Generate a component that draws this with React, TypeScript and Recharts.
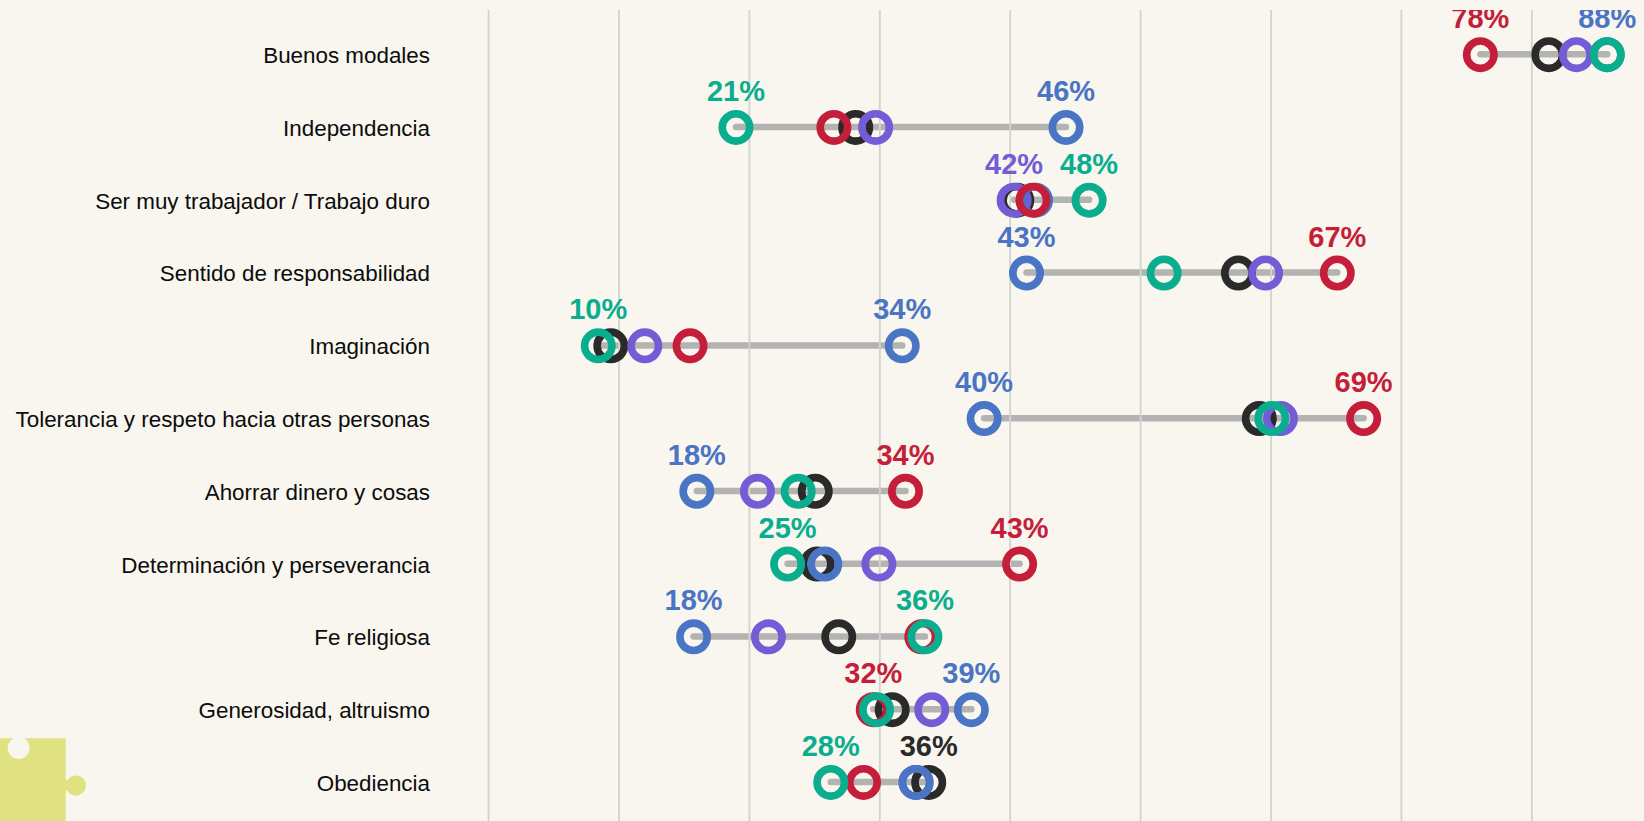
import React from "react";
import { Bar, ComposedChart, LabelList, Line, ReferenceLine, XAxis, YAxis } from "recharts";

const categories = [
  "Buenos modales",
  "Independencia",
  "Ser muy trabajador / Trabajo duro",
  "Sentido de responsabilidad",
  "Imaginación",
  "Tolerancia y respeto hacia otras personas",
  "Ahorrar dinero y cosas",
  "Determinación y perseverancia",
  "Fe religiosa",
  "Generosidad, altruismo",
  "Obediencia",
];

const blackValues = [83.3, 30.15, 42.5, 59.5, 11.37, 61.1, 27.05, 27.2, 28.85, 32.95, 35.75];
const blueValues = [87.78, 46.28, 43.94, 43.25, 33.72, 40.0, 17.97, 27.78, 17.72, 39.02, 34.78];
const purpleValues = [85.42, 31.68, 42.3, 61.58, 13.98, 62.72, 22.62, 31.93, 23.46, 35.98, 34.78];
const redValues = [78.05, 28.48, 43.74, 67.08, 17.45, 69.1, 33.97, 42.72, 35.22, 31.5, 30.75];
const greenValues = [87.78, 20.97, 48.05, 53.8, 10.41, 62.06, 25.74, 24.93, 35.46, 31.75, 28.24];

const blackLabels = [null, null, null, null, null, null, null, null, null, null, "36%"];
const blueLabels = ["88%", "46%", null, "43%", "34%", "40%", "18%", null, "18%", "39%", null];
const purpleLabels = [null, null, "42%", null, null, null, null, null, null, null, null];
const redLabels = ["78%", null, null, "67%", null, "69%", "34%", "43%", null, "32%", null];
const greenLabels = [null, "21%", "48%", null, "10%", null, null, "25%", "36%", null, "28%"];

const gridTicks = [2, 12, 22, 32, 42, 52, 62, 72, 82];

const BLACK = "#2a2a2a";
const BLUE = "#4a74c4";
const PURPLE = "#745cd6";
const RED = "#c41e3a";
const GREEN = "#0aae8e";
const BG = "#f8f6ee";
const FONT = '"Liberation Sans", Arial, sans-serif';

const rows = categories.map((name, i) => {
  const vals = [blackValues[i], blueValues[i], purpleValues[i], redValues[i], greenValues[i]];
  return {
    name,
    black: blackValues[i],
    blue: blueValues[i],
    purple: purpleValues[i],
    red: redValues[i],
    green: greenValues[i],
    blackLabel: blackLabels[i],
    blueLabel: blueLabels[i],
    purpleLabel: purpleLabels[i],
    redLabel: redLabels[i],
    greenLabel: greenLabels[i],
    range: [Math.min(...vals), Math.max(...vals)],
  };
});

const RangeShape = (props: any) => {
  const { x, y, width, height } = props;
  const cy = y + height / 2;
  return (
    <line x1={x} x2={x + width} y1={cy} y2={cy} stroke="#b3b3b1" strokeWidth={6.5} strokeLinecap="round" />
  );
};

const seriesDefs = [
  { key: "black", color: BLACK },
  { key: "purple", color: PURPLE },
  { key: "blue", color: BLUE },
  { key: "red", color: RED },
  { key: "green", color: GREEN },
];

export default function App() {
  return (
    <div style={{ position: "fixed", left: 0, top: 0, width: 1644, height: 821, background: BG, overflow: "hidden" }}>
      <svg width={100} height={821} style={{ position: "absolute", left: 0, top: 0 }}>
        <path
          d="M0 738.3 H13.5 A11 11 0 1 0 23.9 738.3 H65.7 V779 L67 781 A10 10 0 1 1 67 790 L65.7 792 V821 H0 Z"
          fill="#e0e282"
        />
      </svg>
      <div style={{ position: "absolute", left: 0, top: 10 }}>
        <ComposedChart
          width={1644}
          height={811}
          data={rows}
          layout="vertical"
          margin={{ top: 0, right: 0, bottom: 0, left: 0 }}
          barCategoryGap={0}
        >
          <XAxis type="number" domain={[0, 90.6]} ticks={gridTicks} hide allowDataOverflow />
          <YAxis
            type="category"
            dataKey="name"
            width={462.5}
            interval={0}
            axisLine={false}
            tickLine={false}
            tickSize={0}
            tickMargin={32.5}
            padding={{ top: 8.3, bottom: 2.2 }}
            tick={{ fontSize: 22.4, fill: "#0c0c0c", fontFamily: FONT, dy: 0.5 }}
          />
          {gridTicks.map((t) => (
            <ReferenceLine key={t} x={t} stroke="#d2d2ce" strokeWidth={1.8} />
          ))}
          <Bar dataKey="range" barSize={6} shape={RangeShape} isAnimationActive={false} legendType="none" />
          {seriesDefs.map((s) => (
            <Line
              key={s.key}
              dataKey={s.key}
              stroke="none"
              dot={{ r: 13.7, fill: "none", stroke: s.color, strokeWidth: 7.6 }}
              activeDot={false}
              isAnimationActive={false}
              legendType="none"
            >
              <LabelList
                dataKey={`${s.key}Label`}
                position="top"
                offset={26.5}
                fill={s.color}
                style={{ fontSize: 29, fontWeight: 700, fontFamily: FONT }}
              />
            </Line>
          ))}
        </ComposedChart>
      </div>
    </div>
  );
}
